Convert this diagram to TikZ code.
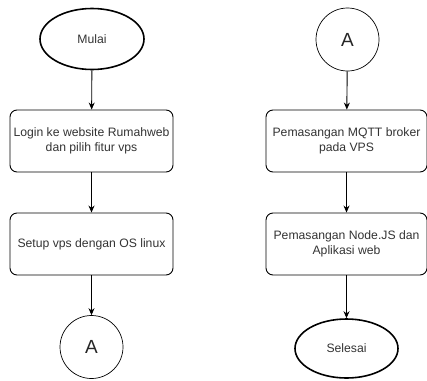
\documentclass[tikz,border=0pt]{standalone}
\usepackage{fontspec}
\setmainfont{Liberation Sans}
\usepackage{tikz}
\usetikzlibrary{positioning,arrows.meta,shapes.geometric}

\begin{document}
\begin{tikzpicture}[x=1pt,y=-1pt,
  box/.style={draw,rectangle,rounded corners=7pt,line width=0.9pt,minimum height=62pt,
    minimum width=163pt,align=center,text=black!80,font=\fontsize{12.2}{14.5}\selectfont},
  term/.style={draw,ellipse,line width=1.6pt,minimum width=104pt,minimum height=61pt,
    text=black!80,font=\fontsize{12.2}{14.5}\selectfont},
  conn/.style={draw,circle,line width=0.7pt,minimum size=63pt,inner sep=0pt,
    text=black!85,font=\fontsize{19}{22}\selectfont},
  flow/.style={-{Stealth[length=7pt,width=6pt]},line width=0.9pt}]
\useasboundingbox (0,0) rectangle (427,380);
% Left column
\node[term] (mulai) at (92,39) {Mulai};
\node[box] (login) at (91.5,141) {Login ke website Rumahweb\\dan pilih fitur vps};
\node[box] (setup) at (91.5,244) {Setup vps dengan OS linux};
\node[conn] (a1) at (91.5,347) {A};
% Right column
\node[conn] (a2) at (347.5,39.5) {A};
\node[box,minimum width=161pt] (mqtt) at (346.5,141) {Pemasangan MQTT broker\\pada VPS};
\node[box,minimum width=161pt] (node) at (346.5,244) {Pemasangan Node.JS dan\\Aplikasi web};
\node[term,minimum width=103pt,minimum height=59pt] (selesai) at (346.5,348.5) {Selesai};
\draw[flow] (mulai) -- (login);
\draw[flow] (login) -- (setup);
\draw[flow] (setup) -- (a1);
\draw[flow] (a2) -- (mqtt);
\draw[flow] (mqtt) -- (node);
\draw[flow] (node) -- (selesai);
\end{tikzpicture}
\end{document}
